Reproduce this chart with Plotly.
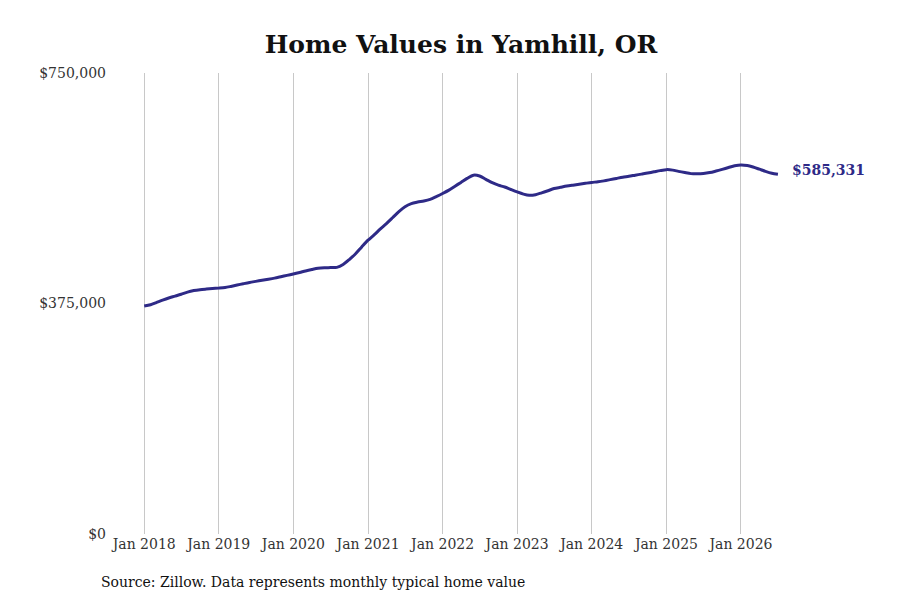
import pandas as pd
import plotly.graph_objects as go

# Monthly typical home value, Jan 2018 - Jul 2026
months = pd.date_range("2018-01-01", "2026-07-01", freq="MS")

values_2018 = [371000, 373000, 376500, 380500, 384000, 387000,
               390000, 393500, 396000, 397500, 398500, 399300]
values_2019 = [400000, 401000, 402800, 405000, 407200, 409300,
               411000, 412800, 414500, 416300, 418500, 420700]
values_2020 = [423000, 425500, 428000, 430300, 432300, 433200,
               433400, 433800, 438500, 446500, 456000, 467000]
values_2021 = [478000, 487000, 496000, 505000, 514500, 524500,
               532500, 537500, 540000, 541800, 544500, 549000]
values_2022 = [554000, 559500, 565500, 572000, 578500, 583800,
               582500, 577000, 571500, 567500, 564500, 560500]
values_2023 = [556500, 553000, 551000, 552000, 555000, 558500,
               562000, 564000, 566000, 567500, 569000, 570500]
values_2024 = [572000, 573000, 574500, 576500, 578500, 580500,
               582000, 583800, 585500, 587200, 589200, 591200]
values_2025 = [592800, 592000, 590000, 588000, 586300, 586000,
               586500, 588000, 590500, 593200, 596200, 599000]
values_2026 = [600500, 599500, 597000, 593500, 590000, 587000, 585331]

values = (values_2018 + values_2019 + values_2020 + values_2021 + values_2022
          + values_2023 + values_2024 + values_2025 + values_2026)

tick_dates = pd.date_range("2018-01-01", "2026-01-01", freq="YS")
tick_labels = [d.strftime("Jan %Y") for d in tick_dates]
y_ticks = [0, 375000, 750000]
y_labels = ["$0", "$375,000", "$750,000"]

LINE_COLOR = "#2e2a87"
FONT = "DejaVu Serif"

fig = go.Figure()
fig.add_trace(go.Scatter(
    x=months,
    y=values,
    mode="lines",
    line=dict(color=LINE_COLOR, width=3, shape="spline", smoothing=0.8),
    hoverinfo="skip",
))

# Label for the latest value
fig.add_annotation(
    x=months[-1], y=values[-1],
    text=f"<b>${values[-1]:,}</b>",
    showarrow=False, xanchor="left", xshift=12, yshift=4,
    font=dict(family=FONT, size=14, color=LINE_COLOR),
)

# Source note (paper coords are relative to the plot area: 685 x 461 px)
fig.add_annotation(
    x=-16 / 685, y=-48 / 461, xref="paper", yref="paper",
    xanchor="left", yanchor="middle",
    text="Source: Zillow. Data represents monthly typical home value",
    showarrow=False,
    font=dict(family=FONT, size=14, color="#111111"),
)

fig.update_layout(
    width=900, height=600,
    paper_bgcolor="white", plot_bgcolor="white",
    showlegend=False,
    margin=dict(l=107, r=108, t=65, b=74, autoexpand=False),
    title=dict(
        text="<b>Home Values in Yamhill, OR</b>",
        x=453 / 900, xanchor="center",
        y=1 - 36 / 600, yanchor="middle",
        font=dict(family=FONT, size=25, color="#111111"),
    ),
    font=dict(family=FONT, size=14, color="#333333"),
)

fig.update_xaxes(
    range=["2017-08-11", "2026-10-17"],
    tickvals=tick_dates, ticktext=tick_labels,
    showgrid=True, gridcolor="#c8c8c8", gridwidth=1,
    showline=False, zeroline=False, ticks="",
    tickfont=dict(family=FONT, size=14, color="#333333"),
)
fig.update_yaxes(
    range=[0, 750000],
    tickvals=y_ticks, ticktext=y_labels,
    showgrid=False, showline=False, zeroline=False, ticks="",
    ticklabelstandoff=8,
    tickfont=dict(family=FONT, size=14, color="#333333"),
)

fig.write_html("out.html")
